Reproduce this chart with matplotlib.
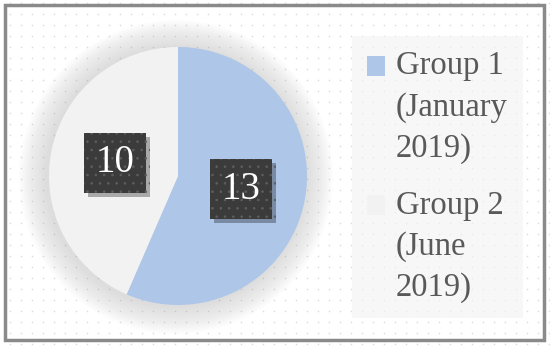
import numpy as np
import matplotlib.pyplot as plt
import matplotlib.patheffects as pe
from matplotlib.patches import Rectangle, Circle
from matplotlib.legend_handler import HandlerPatch

plt.rcParams['font.family'] = ['Liberation Serif', 'DejaVu Serif']
plt.rcParams['hatch.color'] = '#5e5e5e'
plt.rcParams['hatch.linewidth'] = 0.6

# data
labels = ['Group 1\n(January\n2019)', 'Group 2\n(June\n2019)']
values = [13, 10]
colors = ['#aec7e8', '#f2f2f2']

W, H = 550, 352
fig = plt.figure(figsize=(W / 100, H / 100), dpi=100)
ax = fig.add_axes([0, 0, 1, 1])

# dotted background
gx, gy = np.meshgrid(np.arange(10, W, 11), np.arange(8, H, 11))
ax.scatter(gx.ravel(), gy.ravel(), s=1.4, color='#dcdcdc', lw=0, zorder=0)

cx, cy, r = 178, H - 176, 129

# soft shadow around the pie
for k in range(14):
    ax.add_patch(Circle((cx - 2, cy - 1), r + 28 - 2 * k, color='#9a9a9a',
                        alpha=0.022, lw=0, zorder=1))

total = sum(values)
wedges, texts, autotexts = ax.pie(
    values, colors=colors, startangle=90, counterclock=False,
    center=(cx, cy), radius=r, autopct=lambda p: f'{round(p * total / 100):d}',
    pctdistance=0.5, wedgeprops=dict(lw=0, zorder=2))

for t in autotexts:
    t.set_fontsize(28)
    t.set_color('white')
    t.set_zorder(5)
    t.set_bbox(dict(boxstyle='square,pad=0.3', fc='#3b3b3b', ec='#5e5e5e',
                    hatch='..', lw=0))
    t.get_bbox_patch().set_path_effects(
        [pe.SimplePatchShadow(offset=(3, -3), shadow_rgbFace='black', alpha=0.3),
         pe.Normal()])

ax.set_xlim(0, W)
ax.set_ylim(0, H)
ax.set_aspect('equal')
ax.axis('off')


def top_square(legend, orig_handle, xdescent, ydescent, width, height, fontsize):
    return Rectangle((-xdescent, -ydescent + 1.28 * fontsize), width, height)


leg = fig.legend(wedges, labels, loc='upper left',
                 bbox_to_anchor=(352 / W, 1 - 36 / H), fontsize=23.5,
                 frameon=True, fancybox=False, facecolor='#f3f3f3',
                 framealpha=0.6, edgecolor='none', borderpad=0.45,
                 handlelength=0.55, handleheight=0.55, handletextpad=0.35,
                 labelspacing=0.8, labelcolor='#595959', borderaxespad=0,
                 handler_map={wedges[0]: HandlerPatch(patch_func=top_square),
                              wedges[1]: HandlerPatch(patch_func=top_square)})
for t in leg.get_texts():
    t.set_linespacing(1.45)

# outer frame
ax.add_patch(Rectangle((5, 12), 539, 335, fill=False, ec='#8a8a8a', lw=2.5,
                       zorder=10))

fig.savefig('out.png', dpi=100)
